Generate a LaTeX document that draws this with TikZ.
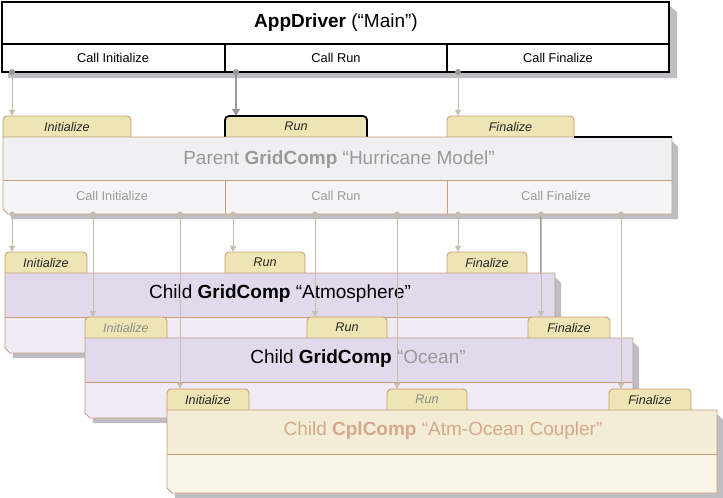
\documentclass[tikz,border=0pt]{standalone}
\usepackage{fontspec}
\setmainfont{Liberation Sans}
\usetikzlibrary{arrows.meta}
\definecolor{tabfill}{HTML}{EFE4B4}
\definecolor{lavtop}{HTML}{E0DAEC}
\definecolor{lavlow}{HTML}{EFECF5}
\definecolor{pfilltop}{HTML}{F0F0F3}
\definecolor{pfilllow}{HTML}{F5F5F7}
\definecolor{ctop}{HTML}{F3ECD6}
\definecolor{clow}{HTML}{F7F3E7}
\definecolor{edgec}{HTML}{C99C7C}
\definecolor{lightarr}{HTML}{C9BDAB}
\definecolor{darkarr}{HTML}{999999}
\definecolor{shad}{HTML}{BDBDC2}
\definecolor{fadetext}{HTML}{9A9A9A}
\definecolor{fadeorange}{HTML}{D6A88C}

\tikzset{
  shadowfill/.style={fill=shad, draw=none},
  bodyline/.style={draw=edgec, line width=0.9pt},
  tabshape/.style={fill=tabfill, draw=edgec, line width=0.9pt, rounded corners=4pt},
  tablabel/.style={font=\itshape\fontsize{12.6}{14}\selectfont, text=black!85, inner sep=0pt, minimum height=21pt},
  titletext/.style={font=\fontsize{19}{22}\selectfont, inner sep=0pt},
  calltext/.style={font=\fontsize{12.8}{15}\selectfont, inner sep=0pt},
  lightarrow/.style={draw=lightarr, line width=1pt, -{Triangle[width=6pt,length=6pt]}},
  darkarrow/.style={draw=darkarr, line width=2.2pt, -{Triangle[width=8pt,length=7pt]}},
  darkline/.style={draw=darkarr, line width=2.2pt},
  portdot/.style={fill=darkarr, draw=none},
  lightport/.style={fill=lightarr, draw=none},
}

% #1 name, #2 x, #3 top y, #4 width, #5 label, #6 shape extras, #7 label extras
\newcommand\mktab[7]{%
  \draw[tabshape,#6] (#2,#3+21) -- (#2,#3) -- (#2+#4,#3) -- (#2+#4,#3+21);
  \node[tablabel, minimum width=#4, #7] (#1) at (#2+#4/2,#3+10.5) {#5};
}
% #1 x1, #2 y1, #3 x2, #4 y2, #5 divider y, #6 top fill, #7 low fill
\newcommand\mkbody[7]{%
  \fill[shadowfill] (#1+6,#2+5) -- (#3+1,#2+5) -- (#3+6,#2+10) -- (#3+6,#4+5) -- (#1+8,#4+5) -- cycle;
  \fill[#6] (#1,#2) rectangle (#3,#5);
  \fill[#7] (#1,#5) -- (#3,#5) -- (#3,#4) -- (#1+5,#4) -- (#1,#4-5) -- cycle;
  \draw[bodyline] (#1,#2) -- (#3,#2) -- (#3,#4) -- (#1+5,#4) -- (#1,#4-5) -- cycle;
  \draw[bodyline] (#1,#5) -- (#3,#5);
}

\begin{document}
\begin{tikzpicture}[x=1pt,y=-1pt]
\useasboundingbox (0,0) rectangle (723,498);
\fill[white] (0,0) rectangle (723,498);

% ---------- AppDriver ----------
\fill[shadowfill] (8,6) -- (670,6) -- (677,12) -- (677,78) -- (8,78) -- cycle;
\fill[white] (2,2) rectangle (669,72);
\draw[black, line width=1.6pt] (2,2) rectangle (669,72);
\draw[black, line width=1.6pt] (2,44) -- (669,44);
\draw[black, line width=1.6pt] (225,44) -- (225,72);
\draw[black, line width=1.6pt] (447,44) -- (447,72);
\node[titletext] (app) at (336,23) {\textbf{AppDriver} (“Main”)};
\node[calltext] (cI) at (113,58) {Call Initialize};
\node[calltext] (cR) at (336,58) {Call Run};
\node[calltext] (cF) at (558,58) {Call Finalize};

% ---------- Parent GridComp ----------
\mktab{pI}{3}{116}{128}{Initialize}{}{}
\mktab{pR}{225}{116}{142}{Run}{draw=black, line width=1.8pt}{}
\mktab{pF}{447}{116}{127}{Finalize}{}{}
\mkbody{3}{137}{672}{214}{180}{pfilltop}{pfilllow}
\draw[black, line width=1.6pt] (574,137) -- (672,137);
\draw[bodyline] (225,180) -- (225,214);
\draw[bodyline] (447,180) -- (447,214);
\node[titletext, text=fadetext] (pT) at (339,160) {Parent \textbf{GridComp} “Hurricane Model”};
\node[calltext, text=fadetext] (pcI) at (112,196) {Call Initialize};
\node[calltext, text=fadetext] (pcR) at (336,196) {Call Run};
\node[calltext, text=fadetext] (pcF) at (556,196) {Call Finalize};

% ---------- Child Atmosphere ----------
\mktab{aI}{5}{252}{82}{Initialize}{}{}
\mktab{aR}{225}{252}{80}{Run}{}{}
\mktab{aF}{447}{252}{80}{Finalize}{}{}
\mkbody{5}{273}{555}{353}{317}{lavtop}{lavlow}
\node[titletext] (aT) at (280,294) {Child \textbf{GridComp} “Atmosphere”};

% ---------- Child Ocean ----------
\mktab{oI}{85}{317}{82}{Initialize}{}{text=black!45}
\mktab{oR}{307}{317}{80}{Run}{}{}
\mktab{oF}{528}{317}{82}{Finalize}{}{}
\mkbody{85}{338}{633}{418}{382}{lavtop}{lavlow}
\node[titletext] (oT) at (358,359) {Child \textbf{GridComp} \textcolor{fadetext}{“Ocean”}};

% ---------- Child Coupler ----------
\mktab{cplI}{167}{389}{82}{Initialize}{}{}
\mktab{cplR}{387}{389}{80}{Run}{}{text=black!45}
\mktab{cplF}{609}{389}{82}{Finalize}{}{}
\mkbody{167}{410}{717}{493}{454}{ctop}{clow}
\node[titletext, text=fadeorange] (cplT) at (443,431) {Child \textbf{CplComp} “Atm-Ocean Coupler”};

% ---------- connectors: AppDriver -> Parent ----------
\coordinate (s1) at (12,72);
\coordinate (s2) at (236,72);
\coordinate (s3) at (458,72);
\draw[lightarrow] (s1) -- (s1 |- pI.north);
\draw[darkarrow] (s2) -- (s2 |- pR.north);
\draw[lightarrow] (s3) -- (s3 |- pF.north);
\foreach \p in {s1,s2,s3} \fill[portdot] (\p) circle (3);

% ---------- connectors: Parent -> Children ----------
\coordinate (q1) at (12,214);
\coordinate (q2) at (93,214);
\coordinate (q3) at (180,214);
\coordinate (q4) at (233,214);
\coordinate (q5) at (315,214);
\coordinate (q6) at (397,214);
\coordinate (q7) at (458,214);
\coordinate (q8) at (541,214);
\coordinate (q9) at (621,214);
\draw[darkline] (q8) -- (q8 |- aF.south);
\draw[lightarrow] (q1) -- (q1 |- aI.north);
\draw[lightarrow] (q2) -- (q2 |- oI.north);
\draw[lightarrow] (q3) -- (q3 |- cplI.north);
\draw[lightarrow] (q4) -- (q4 |- aR.north);
\draw[lightarrow] (q5) -- (q5 |- oR.north);
\draw[lightarrow] (q6) -- (q6 |- cplR.north);
\draw[lightarrow] (q7) -- (q7 |- aF.north);
\draw[lightarrow] (q8) -- (q8 |- oF.north);
\draw[lightarrow] (q9) -- (q9 |- cplF.north);
\foreach \p in {q1,q2,q3,q4,q5,q6,q7,q8,q9} \fill[lightport] (\p) circle (2.5);
\end{tikzpicture}
\end{document}
